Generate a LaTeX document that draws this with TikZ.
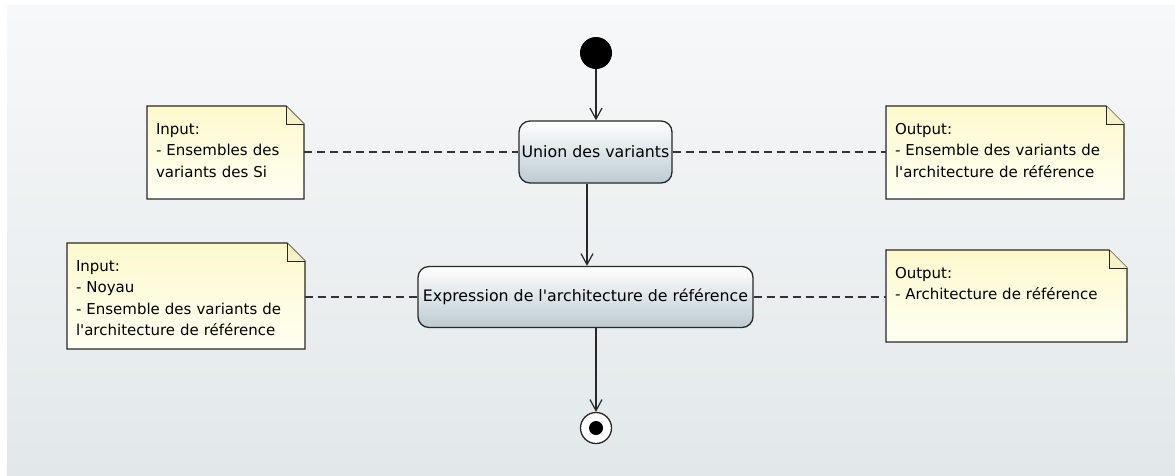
\documentclass[tikz,border=0pt]{standalone}
\usepackage{fontspec}
\newfontfamily\diagfont{DejaVu Sans}
\usepackage{xcolor}
\usepackage{tikz}
\usetikzlibrary{arrows.meta,backgrounds,calc}

\definecolor{bgtop}{RGB}{247,248,249}
\definecolor{bgbot}{RGB}{226,232,234}
\definecolor{notetop}{RGB}{252,249,205}
\definecolor{notebot}{RGB}{255,255,242}
\definecolor{notefold}{RGB}{246,241,200}
\definecolor{actbot}{RGB}{188,203,210}
\definecolor{edge}{RGB}{40,40,40}

\begin{document}
\begin{tikzpicture}[x=1pt, y=-1pt, >={Straight Barb[length=11pt,width=12pt]},
	action/.style={rectangle,rounded corners=11pt,draw=edge,line width=1.3pt,top color=white,bottom color=actbot,inner sep=0pt,font=\diagfont\fontsize{15.8}{19}\selectfont},
	note/.style={rectangle,anchor=north west,outer sep=0pt,inner xsep=9pt,inner ysep=16pt,align=left,text height=12pt,font=\diagfont\fontsize{15}{21.5}\selectfont},
	flow/.style={->,draw=edge,line width=1.2pt},
	link/.style={draw=black!80,line width=1.5pt,dash pattern=on 8pt off 5pt}]

\useasboundingbox (0,0) rectangle (1175,475);

\node (start) at (596,53) [circle,fill=black,inner sep=0pt,minimum size=32pt] {};
\node (u) at (595.5,152) [action,minimum width=153pt,minimum height=62pt] {Union des variants};
\node (exp) at (585.5,297) [action,minimum width=335pt,minimum height=61pt] {Expression de l'architecture de référence};
\node (end) at (596,428) [circle,draw=edge,line width=1.3pt,fill=white,inner sep=0pt,minimum size=31pt,
	path picture={\fill[black] (path picture bounding box.center) circle (7pt);}] {};

\node (in1) at (147,106) [note,text width=139pt,text depth=49pt] {Input:\\- Ensembles des\\variants des Si};
\node (out1) at (886,106) [note,text width=220pt,text depth=49pt] {Output:\\- Ensemble des variants de\\l'architecture de référence};
\node (in2) at (67,243) [note,text width=220pt,text depth=62pt] {Input:\\- Noyau\\- Ensemble des variants de\\l'architecture de référence};
\node (out2) at (886,250) [note,text width=223pt,text depth=48pt] {Output:\\- Architecture de référence};

\draw[flow] (start) -- (u.north -| start);
\draw[flow] ([xshift=-8.5pt]u.south) -- ([xshift=-8.5pt]u.south |- exp.north);
\draw[flow] (exp.south -| end) -- (end);

\draw[link] (in1.east |- u.west) -- (u.west);
\draw[link] (u.east) -- (u.east -| out1.west);
\draw[link] (in2.east |- exp.west) -- (exp.west);
\draw[link] (exp.east) -- (exp.east -| out2.west);

\begin{scope}[on background layer]
\fill[white] (0,0) rectangle (1175,475);
\shade[top color=bgtop,bottom color=bgbot] (7,5) rectangle (1175,475);
\foreach \n in {in1,out1,in2,out2}
{
	\shadedraw[top color=notetop,bottom color=notebot,draw=edge,line width=1.2pt] (\n.south west) -- (\n.north west) -- ([xshift=-18pt]\n.north east) -- ([yshift=-18pt]\n.north east) -- (\n.south east) -- cycle;
	\filldraw[fill=notefold,draw=edge,line width=1pt] ([xshift=-18pt]\n.north east) -- ([xshift=-18pt,yshift=-18pt]\n.north east) -- ([yshift=-18pt]\n.north east);
}
\end{scope}

\end{tikzpicture}
\end{document}
